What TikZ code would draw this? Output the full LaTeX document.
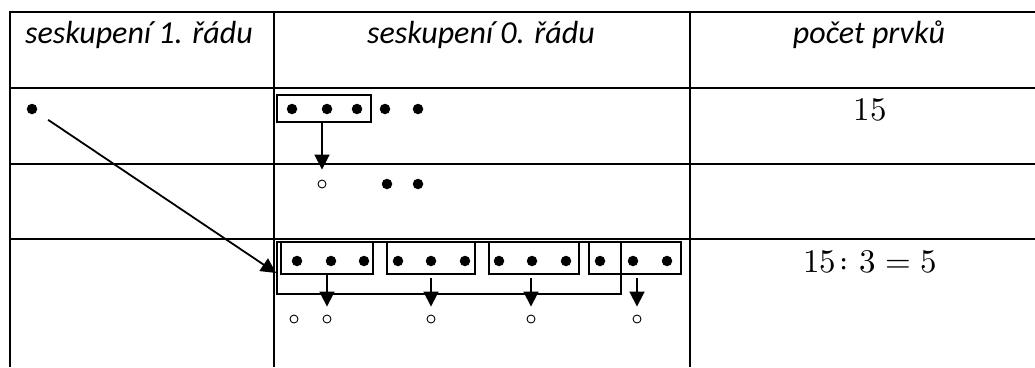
\documentclass[tikz,border=0pt]{standalone}
\usepackage{fontspec}
\usepackage{unicode-math}
\setmainfont{Carlito}
\usetikzlibrary{arrows.meta}

\begin{document}
\begin{tikzpicture}[x=1pt,y=-1pt,
  grid/.style={line width=2.6pt},
  grp/.style={draw,rectangle,line width=1.8pt,inner sep=0pt},
  dot/.style={circle,fill,inner sep=0pt,minimum size=10.5pt},
  odot/.style={circle,draw,line width=0.9pt,inner sep=0pt,minimum size=8pt},
  arr/.style={line width=1.8pt,-{Triangle[length=15pt,width=15pt]}},
  hd/.style={font=\fontsize{32}{38}\selectfont\itshape},
  num/.style={font=\fontsize{33}{38}\selectfont}]
  \useasboundingbox (0,0) rectangle (1035,367);
  % table rules
  \draw[grid] (10,367) -- (10,12) -- (1035,12);
  \foreach \y in {88,164,239} \draw[grid] (10,\y) -- (1035,\y);
  \foreach \x in {274,690} \draw[grid] (\x,12) -- (\x,367);
  % column heads
  \node[hd] (h1) at (139,35) {seskupení 1. řádu};
  \node[hd] (h2) at (481,35) {seskupení 0. řádu};
  \node[hd] (h3) at (869,35) {počet prvků};
  \node[num] (n1) at (870,110) {$15$};
  \node[num] (n2) at (870,262) {$15\colon 3=5$};
  % first order
  \node[dot] (s) at (32,109) {};
  % zero order, first row
  \node[grp,minimum width=94pt,minimum height=27pt] (b) at (324,108.5) {};
  \foreach \x [count=\i] in {292,327,357,385,418} \node[dot] (a\i) at (\x,109) {};
  \node[odot] (c) at (322,184) {};
  \foreach \x [count=\i] in {387,418} \node[dot] (r\i) at (\x,184) {};
  \draw[arr,shorten >=10pt] (b.south -| c) -- (c.north);
  % zero order, third row
  \node[grp,minimum width=344pt,minimum height=52pt] (O) at (449,268) {};
  \foreach \x/\w [count=\i] in {327/92,431/88,534/90,635/92}
    \node[grp,minimum width=\w pt,minimum height=32pt] (g\i) at (\x,258) {};
  \foreach \x [count=\i] in {297,331,364,398,431,465,499,532,566,600,633,667}
    \node[dot] (d\i) at (\x,261) {};
  \node[odot] (k0) at (294,319) {};
  \foreach \x [count=\i] in {327,431,531,637} \node[odot] (k\i) at (\x,319) {};
  \draw[arr,shorten >=8pt] (g1.south -| k1) -- (k1.north);
  \foreach \i in {2,3,4}
    \draw[arr,shorten <=3.5pt,shorten >=8pt] (g\i.south -| k\i) -- (k\i.north);
  \draw[arr,shorten <=14pt] (s) -- ([yshift=-5pt]O.west);
\end{tikzpicture}
\end{document}
